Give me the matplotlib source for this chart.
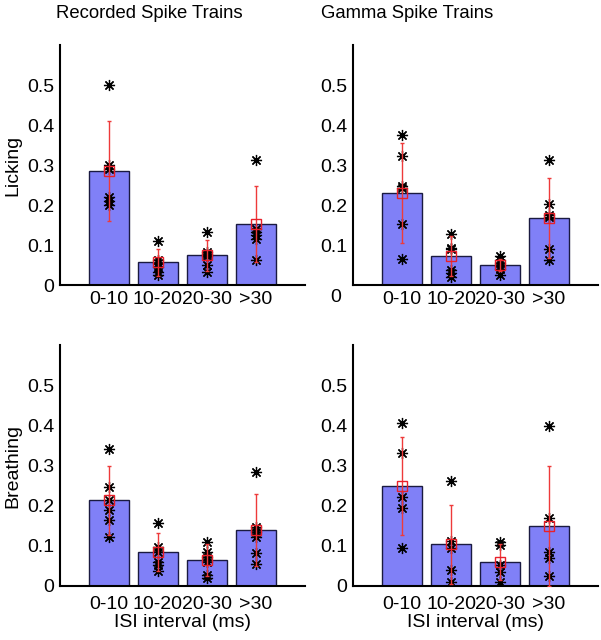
import matplotlib
matplotlib.use("Agg")

import numpy as np
import matplotlib.pyplot as plt
import matplotlib.transforms as mtransforms

plt.rcParams['font.family'] = ['Liberation Sans', 'DejaVu Sans']

categories = ["0-10", "10-20", "20-30", ">30"]
yticks = [0, 0.1, 0.2, 0.3, 0.4, 0.5]

# recorded spike trains, licking
rec_lick_mean = [0.286, 0.057, 0.074, 0.153]
rec_lick_err = [0.125, 0.034, 0.039, 0.095]
rec_lick_pts = [
    [0.50, 0.30, 0.29, 0.22, 0.21, 0.20],
    [0.111, 0.062, 0.054, 0.046, 0.033, 0.025],
    [0.133, 0.082, 0.078, 0.072, 0.050, 0.033],
    [0.313, 0.140, 0.133, 0.125, 0.116, 0.063],
]

# gamma spike trains, licking
gam_lick_mean = [0.231, 0.072, 0.050, 0.168]
gam_lick_err = [0.125, 0.050, 0.015, 0.100]
gam_lick_pts = [
    [0.374, 0.322, 0.247, 0.242, 0.153, 0.066],
    [0.127, 0.093, 0.090, 0.037, 0.030, 0.019],
    [0.072, 0.062, 0.054, 0.047, 0.040, 0.025],
    [0.312, 0.202, 0.176, 0.170, 0.091, 0.062],
]

# recorded spike trains, breathing
rec_br_mean = [0.213, 0.084, 0.065, 0.140]
rec_br_err = [0.086, 0.047, 0.040, 0.089]
rec_br_pts = [
    [0.342, 0.247, 0.214, 0.189, 0.164, 0.123],
    [0.158, 0.098, 0.085, 0.060, 0.052, 0.038],
    [0.110, 0.085, 0.073, 0.060, 0.027, 0.019],
    [0.284, 0.148, 0.135, 0.123, 0.083, 0.056],
]

# gamma spike trains, breathing
gam_br_mean = [0.249, 0.104, 0.059, 0.149]
gam_br_err = [0.123, 0.098, 0.045, 0.149]
gam_br_pts = [
    [0.406, 0.332, 0.221, 0.195, 0.094],
    [0.262, 0.113, 0.094, 0.041, 0.011],
    [0.110, 0.102, 0.052, 0.036, 0.011],
    [0.399, 0.170, 0.085, 0.069, 0.025],
]

W, H = 601, 640
fig = plt.figure(figsize=(W / 100, H / 100), dpi=100)


def make_ax(x0, y_base, y_top, width=245):
    return fig.add_axes([x0 / W, 1 - y_base / H, width / W, (y_base - y_top) / H])


def panel(ax, means, errs, pts, ylabel=None, xlabel=None, xpad=4):
    x = np.arange(1, len(categories) + 1)
    ax.bar(x, means, width=0.8, color='#8080f7', edgecolor='#1a1a40', linewidth=1.0, zorder=1)
    for xi, p in zip(x, pts):
        ax.plot([xi] * len(p), p, linestyle='none', marker=(8, 2, 0), markersize=8,
                color='black', markeredgewidth=0.9, zorder=3)
    ax.errorbar(x, means, yerr=errs, fmt='s', color='#e8202a', ecolor='#ee3a3a',
                elinewidth=1.0, capsize=1.5, markersize=7, markerfacecolor='none',
                markeredgewidth=1.0, zorder=4)
    ax.set_xlim(0, 5)
    ax.set_ylim(0, 0.6)
    ax.set_xticks(x)
    ax.set_xticklabels(categories, fontsize=14)
    ax.set_yticks(yticks)
    ax.set_yticklabels([f"{v:g}" for v in yticks], fontsize=14)
    ax.tick_params(length=0)
    ax.tick_params(axis='y', pad=4)
    ax.tick_params(axis='x', pad=xpad)
    for s in ['top', 'right']:
        ax.spines[s].set_visible(False)
    for s in ['left', 'bottom']:
        ax.spines[s].set_linewidth(1.5)
    if ylabel:
        ax.set_ylabel(ylabel, fontsize=14, labelpad=4)
    if xlabel:
        ax.set_xlabel(xlabel, fontsize=14, labelpad=1)


ax1 = make_ax(60, 285, 45)
ax2 = make_ax(353, 285, 45)
ax3 = make_ax(60, 586, 345)
ax4 = make_ax(353, 586, 345)

panel(ax1, rec_lick_mean, rec_lick_err, rec_lick_pts, ylabel="Licking")
panel(ax2, gam_lick_mean, gam_lick_err, gam_lick_pts)
panel(ax3, rec_br_mean, rec_br_err, rec_br_pts, ylabel="Breathing", xlabel="ISI interval (ms)", xpad=7)
panel(ax4, gam_br_mean, gam_br_err, gam_br_pts, xlabel="ISI interval (ms)", xpad=7)

# the zero label of the upper right panel sits lower and further left
fig.canvas.draw()
zero_lab = ax2.get_yticklabels()[0]
zero_lab.set_transform(zero_lab.get_transform() +
                       mtransforms.ScaledTranslation(-0.06, -0.10, fig.dpi_scale_trans))

fig.text(149 / W, 1 - 13 / H, "Recorded Spike Trains", ha='center', va='center', fontsize=13.3)
fig.text(407 / W, 1 - 13 / H, "Gamma Spike Trains", ha='center', va='center', fontsize=13.3)

fig.savefig("out.png", dpi=100)
